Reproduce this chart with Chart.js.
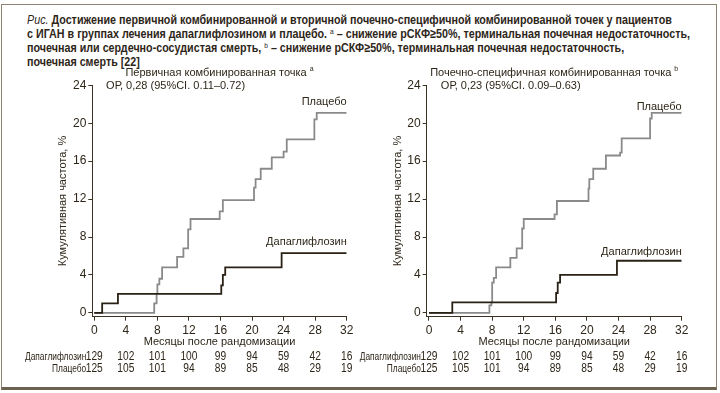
<!DOCTYPE html>
<html lang="ru">
<head>
  <meta charset="UTF-8" />
  <title>Первичная и почечно-специфичная комбинированные точки</title>
  <script src="https://cdn.jsdelivr.net/npm/chart.js"></script>
  <style>
    body {
      margin: 0;
      width: 720px;
      height: 393px;
      background: #fff;
      position: relative;
      overflow: hidden;
      font-family: "Liberation Sans", Arial, sans-serif;
      color: #2e2619;
    }
    .frame {
      position: absolute;
      left: 1px;
      top: 4px;
      width: 714px;
      height: 382px;
      border: 1px solid #8c8470;
      border-bottom: 3px solid #6b634f;
    }
    .caption {
      position: absolute;
      left: 27px;
      top: 13px;
      display: inline-block;
      font-weight: bold;
      font-size: 13px;
      line-height: 14px;
      white-space: nowrap;
      transform-origin: left top;
    }
    .caption i { font-weight: normal; }
    .caption sup { font-size: 8px; vertical-align: 4px; line-height: 0; font-weight: normal; }
    canvas { position: absolute; top: 60px; }
    #left { left: 0; }
    #right { left: 350px; }
  </style>
</head>
<body>
  <div class="frame"></div>
  <div class="caption" id="caption">
    <i>Рис.</i> Достижение первичной комбинированной и вторичной почечно-специфичной комбинированной точек у пациентов<br>
    с ИГАН в группах лечения дапаглифлозином и плацебо. <sup>a</sup> – снижение рСКФ≥50%, терминальная почечная недостаточность,<br>
    почечная или сердечно-сосудистая смерть, <sup>b</sup> – снижение рСКФ≥50%, терминальная почечная недостаточность,<br>
    почечная смерть [22]
  </div>
  <canvas id="left" width="360" height="333"></canvas>
  <canvas id="right" width="370" height="333"></canvas>

  <script>
    const xTicks = [0, 4, 8, 12, 16, 20, 24, 28, 32];
    const yTicks = [0, 4, 8, 12, 16, 20, 24];
    const riskDapa = [129, 102, 101, 100, 99, 94, 59, 42, 16];
    const riskPlac = [125, 105, 101, 94, 89, 85, 48, 29, 19];

    // primary composite endpoint
    const primPlacT = [0, 7.6, 7.9, 8.0, 8.25, 8.6, 10.5, 11.3, 11.9, 12.2, 15.9, 16.3, 20.25, 20.45, 21.1, 22.5, 24.0, 24.4, 27.9, 28.2, 32];
    const primPlacV = [0, 1.0, 2.0, 3.0, 3.6, 4.8, 5.9, 6.8, 8.8, 9.9, 10.7, 11.9, 13.2, 14.1, 15.2, 16.4, 17.0, 18.3, 20.4, 21.1, 21.1];
    const primDapaT = [0, 1.0, 3.0, 16.1, 16.3, 16.6, 23.75, 32];
    const primDapaV = [0, 1.0, 2.0, 2.9, 4.0, 4.8, 6.3, 6.3];

    // kidney-specific composite endpoint
    const renPlacT = [0, 7.65, 7.9, 8.0, 8.2, 8.5, 10.3, 11.1, 11.8, 12.0, 15.9, 16.2, 20.2, 20.3, 20.8, 22.4, 24.2, 24.4, 28.0, 28.2, 32];
    const renPlacV = [0, 0.8, 1.1, 3.2, 3.7, 4.8, 5.8, 6.8, 8.9, 9.9, 10.4, 11.8, 13.1, 14.1, 15.2, 16.6, 16.9, 18.4, 20.5, 21.1, 21.1];
    const renDapaT = [0, 2.95, 16.1, 16.3, 16.6, 23.8, 32];
    const renDapaV = [0, 1.1, 2.1, 3.2, 4.0, 5.5, 5.5];

    const TEXT = '#2e2619';
    const AXIS = '#3b3122';
    const GRAY = '#8a8a8a';
    const DARK = '#2a2116';
    const FONT = '"Liberation Sans", Arial, sans-serif';

    // squeeze the caption to the narrow width of the original
    const cap = document.getElementById('caption');
    cap.style.transform = 'scaleX(' + (663 / cap.offsetWidth) + ')';

    function pts(t, v) {
      return t.map((x, i) => ({ x: x, y: v[i] }));
    }

    // condensed text: draw with horizontal squeeze
    function narrowText(ctx, txt, x, y, k) {
      ctx.save();
      ctx.translate(x, y);
      ctx.scale(k, 1);
      ctx.fillText(txt, 0, 0);
      ctx.restore();
    }

    const panelText = {
      id: 'panelText',
      afterDraw(chart, args, o) {
        const ctx = chart.ctx;
        const xs = chart.scales.x, ys = chart.scales.y;
        const ca = chart.chartArea;
        ctx.save();
        ctx.fillStyle = TEXT;
        ctx.textBaseline = 'middle';

        // title with superscript
        ctx.font = '11px ' + FONT;
        const w = ctx.measureText(o.title).width;
        ctx.font = '7px ' + FONT;
        const sw = ctx.measureText(o.sup).width;
        const sx = (ca.left + ca.right) / 2 - (w + 3 + sw) / 2;
        ctx.textAlign = 'left';
        ctx.font = '11px ' + FONT;
        ctx.fillText(o.title, sx, 12.7);
        ctx.font = '7px ' + FONT;
        ctx.fillText(o.sup, sx + w + 3, 9);

        ctx.font = '11px ' + FONT;
        ctx.fillText(o.hr, xs.getPixelForValue(1.5), 26);

        // series labels at line ends
        ctx.textAlign = 'right';
        chart.data.datasets.forEach((ds, i) => {
          const last = ds.data[ds.data.length - 1];
          ctx.fillText(ds.label, xs.getPixelForValue(32), ys.getPixelForValue(last.y) - o.labelOff[i]);
        });

        // numbers at risk
        const rows = [[o.names[0], riskDapa, 297], [o.names[1], riskPlac, 309]];
        rows.forEach(r => {
          ctx.textAlign = 'right';
          ctx.font = '11px ' + FONT;
          narrowText(ctx, r[0], xs.getPixelForValue(0) - 8, r[2], 0.76);
          ctx.textAlign = 'center';
          ctx.font = '12px ' + FONT;
          r[1].forEach((n, i) => narrowText(ctx, String(n), xs.getPixelForValue(xTicks[i]), r[2], 0.85));
        });
        ctx.restore();
      }
    };

    function makeChart(id, plac, dapa, p) {
      return new Chart(document.getElementById(id), {
        type: 'line',
        data: {
          datasets: [
            { label: 'Дапаглифлозин', data: dapa, borderColor: DARK, borderWidth: 1.8, stepped: true, pointRadius: 0, fill: false },
            { label: 'Плацебо', data: plac, borderColor: GRAY, borderWidth: 1.8, stepped: true, pointRadius: 0, fill: false }
          ]
        },
        options: {
          responsive: false,
          animation: false,
          devicePixelRatio: 1,
          layout: { padding: p.padding },
          plugins: {
            legend: { display: false },
            tooltip: { enabled: false },
            panelText: { title: p.title, sup: p.sup, hr: p.hr, labelOff: p.labelOff, names: ['Дапаглифлозин', 'Плацебо'] }
          },
          scales: {
            x: {
              type: 'linear',
              min: p.xMin,
              max: 32,
              afterBuildTicks: s => { s.ticks = xTicks.map(v => ({ value: v })); },
              afterFit: s => { s.height = 76.3; },
              grid: { drawOnChartArea: false, tickLength: 4, color: AXIS },
              border: { color: AXIS, width: 1 },
              ticks: { color: TEXT, font: { family: FONT, size: 12 }, padding: 3, maxRotation: 0, autoSkip: false },
              title: { display: true, text: 'Месяцы после рандомизации', color: TEXT, font: { family: FONT, size: 11 }, padding: { top: 0, bottom: 44 } }
            },
            y: {
              min: -0.4,
              max: 24,
              afterBuildTicks: s => { s.ticks = yTicks.map(v => ({ value: v })); },
              afterFit: s => { s.width = p.yWidth; },
              grid: { drawOnChartArea: false, tickLength: 4, color: AXIS },
              border: { color: AXIS, width: 1 },
              ticks: { color: TEXT, font: { family: FONT, size: 12 }, padding: 2 },
              title: { display: true, text: 'Кумулятивная частота, %', color: TEXT, font: { family: FONT, size: 11 }, padding: 0 }
            }
          }
        },
        plugins: [panelText]
      });
    }

    makeChart('left', pts(primPlacT, primPlacV), pts(primDapaT, primDapaV), {
      padding: { left: 56.4, right: 13.3, top: 25.3, bottom: 0 },
      yWidth: 35.9,
      xMin: -0.25,
      title: 'Первичная комбинированная точка',
      sup: 'a',
      hr: 'ОР, 0,28 (95%CI. 0.11–0.72)',
      labelOff: [11, 11]
    });

    makeChart('right', pts(renPlacT, renPlacV), pts(renDapaT, renDapaV), {
      padding: { left: 41.4, right: 38.3, top: 25.3, bottom: 0 },
      yWidth: 35.3,
      xMin: -0.29,
      title: 'Почечно-специфичная комбинированная точка',
      sup: 'b',
      hr: 'ОР, 0,23 (95%CI. 0.09–0.63)',
      labelOff: [9, 6]
    });
  </script>
</body>
</html>
